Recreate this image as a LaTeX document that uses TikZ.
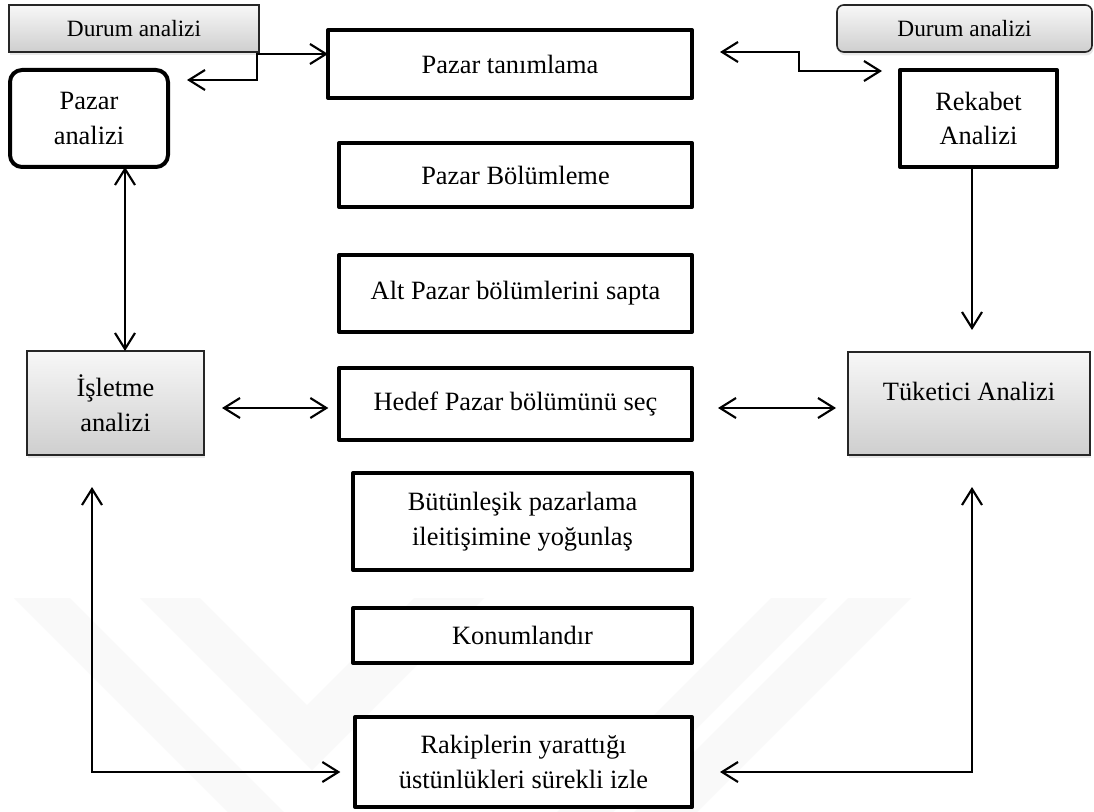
\documentclass[tikz,border=0pt]{standalone}
\usepackage{fontspec}
\setmainfont{Liberation Serif}
\usetikzlibrary{arrows.meta,shadows,calc}

\tikzset{
  every node/.style={inner sep=0pt, outer sep=0pt, align=center},
  txt/.style={font=\fontsize{19.8pt}{26pt}\selectfont},
  small/.style={font=\fontsize{17.5pt}{22pt}\selectfont},
  thickbox/.style={txt, draw=black, line width=3pt, line join=round, fill=white},
  roundbox/.style={txt, draw=black, line width=3pt, rounded corners=9pt, fill=white},
  greybox/.style={draw=black!85, line width=1.2pt, top color=gray!6, bottom color=gray!38,
    drop shadow={shadow xshift=1pt, shadow yshift=-2.5pt, fill=gray!50, opacity=.35}},
  conn/.style={line width=1.6pt, {Straight Barb[length=12pt,width=15pt]}-{Straight Barb[length=12pt,width=15pt]}},
  conn1/.style={line width=1.6pt, -{Straight Barb[length=12pt,width=15pt]}},
  emblem/.style={fill=gray!5, draw=none}
}

% box from pixel corners: style, name, x1, y1, x2, y2, text
\newcommand\pxbox[7]{%
  \node[#1, minimum width={(#5-#3)*0.75pt}, minimum height={(#6-#4)*0.75pt}]
    (#2) at ({(#3+#5)/2},{(#4+#6)/2}) {#7};}

\begin{document}
\begin{tikzpicture}[x=0.75pt, y=-0.75pt]
\useasboundingbox (0,0) rectangle (1094,812);
\fill[white] (0,0) rectangle (1094,812);

% faint background emblem (diagonal stripes)
\fill[emblem] (14,598) -- (70,598) -- (284,812) -- (228,812) -- cycle;
\fill[emblem] (140,598) -- (200,598) -- (307,705) -- (414,598) -- (484,598) -- (312,770) -- cycle;
\fill[emblem] (771,598) -- (827,598) -- (613,812) -- (557,812) -- cycle;
\fill[emblem] (848,598) -- (911,598) -- (697,812) -- (634,812) -- cycle;

% boxes
\pxbox{greybox, small}{dl}{9}{5}{259}{52}{Durum analizi}
\pxbox{greybox, small, rounded corners=5pt}{dr}{837}{5}{1092}{52}{Durum analizi}
\pxbox{roundbox}{pa}{10}{70}{168}{167}{Pazar\\analizi}
\pxbox{thickbox}{pt}{328}{30}{692}{98}{Pazar tanımlama}
\pxbox{thickbox}{pb}{339}{143}{692}{207}{Pazar Bölümleme}
\pxbox{thickbox}{ap}{339}{255}{692}{332}{Alt Pazar bölümlerini sapta}
\pxbox{thickbox}{hd}{339}{368}{692}{440}{Hedef Pazar bölümünü seç}
\pxbox{thickbox}{bp}{353}{473}{692}{570}{Bütünleşik pazarlama\\ileitişimine yoğunlaş}
\pxbox{thickbox}{kn}{353}{608}{692}{663}{Konumlandır}
\pxbox{thickbox}{rk}{355}{717}{692}{807}{Rakiplerin yarattığı\\üstünlükleri sürekli izle}
\pxbox{thickbox}{ra}{900}{70}{1057}{167}{Rekabet\\Analizi}
\pxbox{greybox, txt}{ia}{27}{351}{204}{455}{İşletme\\analizi}
\pxbox{greybox, txt}{tk}{848}{352}{1090}{455}{\raisebox{18pt}{Tüketici Analizi}}

% free arrow ends
\coordinate (paTip) at (187,80);
\coordinate (ptTip) at (720,52);
\coordinate (raTip) at (882,71);
\coordinate (tkTop) at (972,330);
\coordinate (iaLow) at (92,487);
\coordinate (tkLow) at (972,487);

% connectors
\draw[conn] (paTip) -| (257,54) -- (pt.west |- 0,54);
\draw[conn] (ptTip) -| (799,71) -- (raTip);
\draw[conn1] (ra.south -| tkTop) -- (tkTop);
\draw[conn] (pa.south -| 125,0) -- (ia.north -| 125,0);
\draw[conn, shorten <=13.5pt, shorten >=8pt] (ia.east |- 0,408) -- (hd.west |- 0,408);
\draw[conn, shorten <=19.5pt, shorten >=9pt] (hd.east |- 0,408) -- (tk.west |- 0,408);
\draw[conn, shorten >=11pt] (iaLow) |- (rk.west |- 0,772);
\draw[conn, shorten >=21pt] (tkLow) |- (rk.east |- 0,772);
\end{tikzpicture}
\end{document}
